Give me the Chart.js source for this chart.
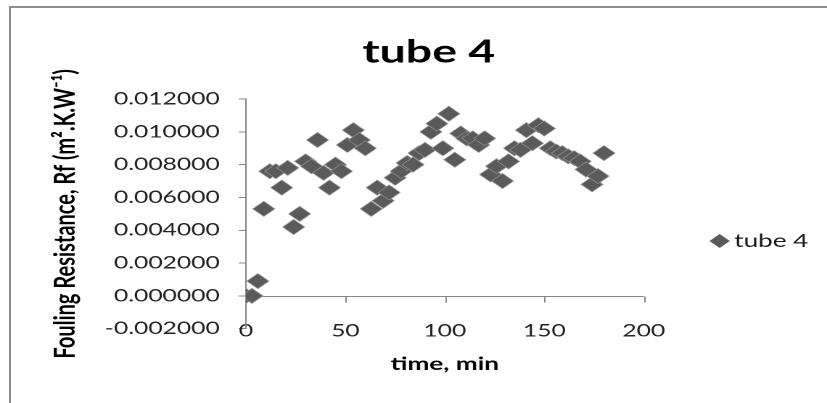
<!DOCTYPE html>
<html>
<head>
<meta charset="utf-8">
<script src="https://cdn.jsdelivr.net/npm/chart.js@4.4.1/dist/chart.umd.min.js"></script>
<style>
  html, body { margin: 0; padding: 0; background: #fff; }
  #frame { position: relative; width: 827px; height: 403px; overflow: hidden; }
  #edge { position: absolute; left: 9px; top: 6px; width: 900px; height: 500px;
          border-top: 2px solid #8e8e8e; border-left: 2px solid #8e8e8e; }
  #stretch { position: absolute; left: 0; top: 0; width: 570px; height: 403px;
             transform: scale(1.4509, 1); transform-origin: 0 0; }
</style>
</head>
<body>
<div id="frame">
  <div id="edge"></div>
  <div id="stretch"><canvas id="rf" width="570" height="403"></canvas></div>
</div>
<script>
// ---- data ----
const seriesName = 'tube 4';
const timeMin = [0, 3, 6, 9, 12, 15, 18, 21, 24, 27, 30, 33, 36, 39, 42, 45, 48, 51, 54, 57,
  60, 63, 66, 69, 72, 75, 78, 81, 84, 87, 90, 93, 96, 99, 102, 105, 108, 111, 114, 117,
  120, 123, 126, 129, 132, 135, 138, 141, 144, 147, 150, 153, 156, 159, 162, 165, 168, 171, 174, 177, 180];
const foulingRf = [0.0000, 0.0000, 0.0009, 0.0053, 0.0076, 0.0076, 0.0066, 0.0078, 0.0042, 0.0050,
  0.0082, 0.0079, 0.0095, 0.0075, 0.0066, 0.0080, 0.0076, 0.0092, 0.0101, 0.0095,
  0.0090, 0.0053, 0.0066, 0.0058, 0.0063, 0.0072, 0.0076, 0.0081, 0.0080, 0.0087,
  0.0089, 0.0100, 0.0105, 0.0090, 0.0111, 0.0083, 0.0099, 0.0096, 0.0096, 0.0092,
  0.0096, 0.0074, 0.0079, 0.0070, 0.0082, 0.0090, 0.0089, 0.0101, 0.0093, 0.0104,
  0.0102, 0.0090, 0.0088, 0.0087, 0.0085, 0.0084, 0.0082, 0.0077, 0.0068, 0.0073, 0.0087];
const xTicks = [0, 50, 100, 150, 200];
const yTicks = [-0.002, 0, 0.002, 0.004, 0.006, 0.008, 0.010, 0.012];

const AXIS_GREY = '#868686';
const MARK = '#5a5a5a';

Chart.defaults.font.family = 'Lato';
Chart.defaults.color = '#1a1a1a';

// horizontal axis line sits at y = 0, like the original
const zeroAxis = {
  id: 'zeroAxis',
  beforeDatasetsDraw(chart) {
    const { ctx, chartArea, scales } = chart;
    const y0 = Math.round(scales.y.getPixelForValue(0)) + 0.5;
    ctx.save();
    ctx.strokeStyle = AXIS_GREY;
    ctx.lineWidth = 1;
    ctx.beginPath();
    ctx.moveTo(chartArea.left, y0);
    ctx.lineTo(chartArea.right, y0);
    scales.x.ticks.forEach(t => {
      const px = Math.round(scales.x.getPixelForValue(t.value)) + 0.5;
      ctx.moveTo(px, y0);
      ctx.lineTo(px, y0 + 6);
    });
    ctx.stroke();
    ctx.restore();
  }
};

// legend on the right, a bit below the middle
const sideLegend = {
  id: 'sideLegend',
  afterDraw(chart) {
    const { ctx } = chart;
    const ds = chart.data.datasets[0];
    const cx = 496, cy = 241, r = 7;
    ctx.save();
    ctx.fillStyle = MARK;
    ctx.beginPath();
    ctx.moveTo(cx, cy - r);
    ctx.lineTo(cx + r, cy);
    ctx.lineTo(cx, cy + r);
    ctx.lineTo(cx - r, cy);
    ctx.closePath();
    ctx.fill();
    ctx.fillStyle = '#1a1a1a';
    ctx.font = '18px Lato';
    ctx.textBaseline = 'middle';
    ctx.fillText(ds.label, 506, cy);
    ctx.restore();
  }
};

new Chart(document.getElementById('rf'), {
  type: 'scatter',
  data: {
    datasets: [{
      label: seriesName,
      data: timeMin.map((t, i) => ({ x: t, y: foulingRf[i] })),
      pointStyle: 'rectRot',
      pointRadius: 7.5,
      pointHoverRadius: 7.5,
      backgroundColor: MARK,
      borderColor: '#8c8c8c',
      borderWidth: 0.7
    }]
  },
  options: {
    responsive: false,
    animation: false,
    devicePixelRatio: 2,
    layout: { padding: { left: 21, right: 0, top: 8, bottom: 28 } },
    plugins: {
      legend: { display: false },
      tooltip: { enabled: false },
      title: {
        display: true,
        text: seriesName,
        color: '#000',
        font: { size: 32, weight: 'bold' },
        padding: { top: 24.8, bottom: 27.8 }
      }
    },
    scales: {
      x: {
        type: 'linear',
        min: 0,
        max: 200,
        afterBuildTicks: s => { s.ticks = xTicks.map(v => ({ value: v })); },
        grid: { display: false, drawTicks: false },
        border: { display: false },
        ticks: { mirror: true, padding: -12.4, font: { size: 17 }, color: '#222', maxRotation: 0 },
        title: {
          display: true,
          text: 'time, min',
          color: '#000',
          font: { size: 18, weight: 'bold' },
          padding: { top: 49.5, bottom: 0 }
        }
      },
      y: {
        min: -0.002,
        max: 0.012,
        afterBuildTicks: s => { s.ticks = yTicks.map(v => ({ value: v })); },
        afterFit: s => { s.width = 148.5; },
        grid: { drawOnChartArea: false, drawTicks: true, tickLength: 5, color: AXIS_GREY },
        border: { display: true, color: AXIS_GREY, width: 1 },
        ticks: {
          padding: 13,
          font: { size: 17 },
          color: '#222',
          callback: v => v.toFixed(6)
        },
        title: {
          display: true,
          text: 'Fouling Resistance, Rf (m\u00b2.K.W\u207b\u00b9)',
          color: '#000',
          font: { size: 20, weight: 'bold' },
          padding: { top: 12.1, bottom: 0 }
        }
      },
      // empty right-hand strip that keeps room for the legend
      side: {
        type: 'linear',
        position: 'right',
        min: 0,
        max: 1,
        afterFit: s => { s.width = 126.3; },
        grid: { display: false },
        border: { display: false },
        ticks: { display: false }
      }
    }
  },
  plugins: [zeroAxis, sideLegend]
});
</script>
</body>
</html>
